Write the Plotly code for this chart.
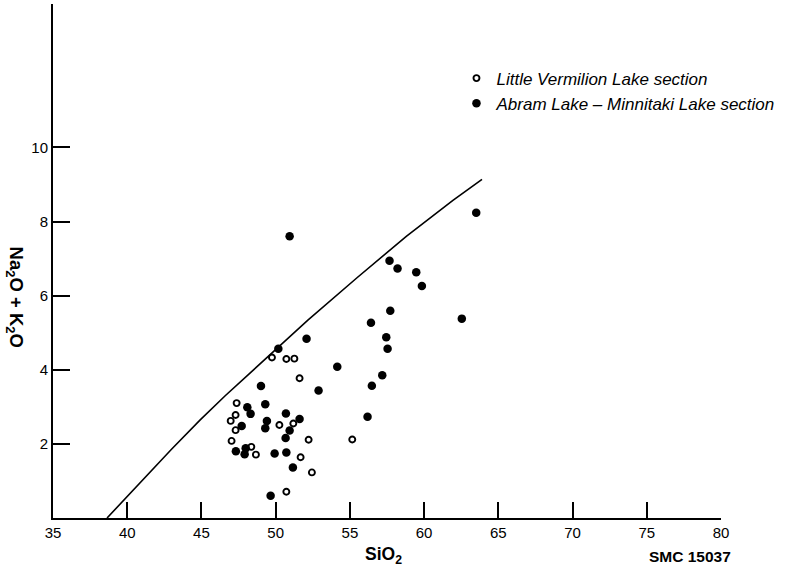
import plotly.graph_objects as go

# Little Vermilion Lake section (open circles)
lv_sio2 = [49.75, 50.72, 51.26, 51.61, 47.37, 47.30, 46.97, 51.19, 50.25, 47.30,
           52.22, 55.16, 47.03, 48.36, 48.67, 51.68, 52.44, 50.72]
lv_alk = [4.33, 4.29, 4.30, 3.77, 3.10, 2.78, 2.62, 2.55, 2.51, 2.37,
          2.11, 2.12, 2.08, 1.92, 1.71, 1.64, 1.23, 0.71]

# Abram Lake - Minnitaki Lake section (filled circles)
am_sio2 = [50.94, 57.67, 58.21, 59.47, 59.85, 63.51, 57.72, 62.54, 56.42, 52.08,
           57.45, 57.54, 50.18, 54.15, 57.18, 56.48, 49.01, 52.89, 49.30, 48.09,
           48.31, 50.69, 56.19, 49.41, 51.61, 47.71, 49.30, 50.94, 50.67, 47.32,
           47.98, 47.91, 49.93, 50.72, 51.16, 49.66]
am_alk = [7.60, 6.94, 6.73, 6.63, 6.26, 8.24, 5.59, 5.38, 5.27, 4.84,
          4.88, 4.57, 4.57, 4.08, 3.85, 3.57, 3.56, 3.44, 3.07, 2.99,
          2.81, 2.82, 2.73, 2.62, 2.67, 2.48, 2.42, 2.36, 2.16, 1.80,
          1.88, 1.72, 1.74, 1.77, 1.36, 0.60]

# Alkaline / subalkaline dividing curve
curve_sio2 = [38.64, 41.0, 43.0, 44.9, 46.6, 48.27, 50.2, 52.17, 55.5, 58.8, 61.94, 63.9]
curve_alk = [0.0, 1.01, 1.86, 2.64, 3.30, 3.91, 4.62, 5.34, 6.49, 7.60, 8.57, 9.14]

x_ticks = [35, 40, 45, 50, 55, 60, 65, 70, 75, 80]
y_ticks = [2, 4, 6, 8, 10]

FONT = "Liberation Sans, Arial, Helvetica, sans-serif"

fig = go.Figure()
fig.add_trace(go.Scatter(x=curve_sio2, y=curve_alk, mode="lines",
                         line=dict(color="black", width=1.6),
                         showlegend=False, hoverinfo="skip"))
fig.add_trace(go.Scatter(x=lv_sio2, y=lv_alk, mode="markers",
                         name="Little Vermilion Lake section",
                         marker=dict(symbol="circle-open", size=6, color="black",
                                     line=dict(width=1.9, color="black"))))
fig.add_trace(go.Scatter(x=am_sio2, y=am_alk, mode="markers",
                         name="Abram Lake \u2013 Minnitaki Lake section",
                         marker=dict(symbol="circle", size=8.5, color="black")))

fig.update_layout(
    width=796, height=574,
    margin=dict(l=53, r=75, t=3.5, b=56),
    paper_bgcolor="white", plot_bgcolor="white",
    font=dict(family=FONT, color="black", size=15),
    showlegend=True,
    legend=dict(x=0.604, y=0.890, xanchor="left", yanchor="top",
                font=dict(family=FONT, size=17, style="italic"),
                bgcolor="rgba(0,0,0,0)", borderwidth=0, tracegroupgap=0),
    xaxis=dict(range=[35, 80], tickvals=x_ticks, ticktext=[str(v) for v in x_ticks],
               ticks="inside", ticklen=16, tickwidth=1.8, tickcolor="black",
               showline=True, linewidth=2, linecolor="black",
               showgrid=False, zeroline=False, tickfont=dict(size=15)),
    yaxis=dict(range=[0, 13.87], tickvals=y_ticks, ticktext=[str(v) for v in y_ticks],
               ticks="inside", ticklen=17, tickwidth=1.8, tickcolor="black",
               showline=True, linewidth=2, linecolor="black",
               showgrid=False, zeroline=False, tickfont=dict(size=15)),
    annotations=[
        dict(text="<b>SiO<sub>2</sub></b>", xref="paper", yref="paper",
             x=0.4955, y=-0.072, xanchor="center", yanchor="middle",
             showarrow=False, font=dict(size=17.5)),
        dict(text="<b>SMC 15037</b>", xref="paper", yref="paper",
             x=0.9536, y=-0.074, xanchor="center", yanchor="middle",
             showarrow=False, font=dict(size=15.5)),
        dict(text="<b>Na<sub>2</sub>O + K<sub>2</sub>O</b>", xref="paper", yref="paper",
             x=-0.0574, y=0.4295, xanchor="center", yanchor="middle", textangle=90,
             showarrow=False, font=dict(size=18.5)),
    ],
)

fig.write_html("out.html")
